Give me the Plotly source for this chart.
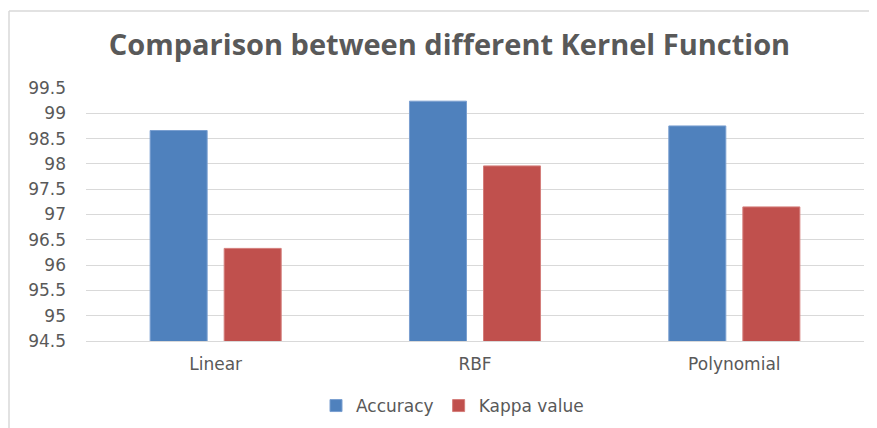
import plotly.graph_objects as go

categories = ["Linear", "RBF", "Polynomial"]
accuracy = [98.66, 99.24, 98.75]
kappa = [96.33, 97.96, 97.15]
y_ticks = [94.5, 95, 95.5, 96, 96.5, 97, 97.5, 98, 98.5, 99, 99.5]

# page body has an 8px margin, so the figure starts at (8, 8) in the window
W, H = 869, 420
L, R, T, B = 78, 13, 80, 87
font_fam = "DejaVu Sans, sans-serif"
gray = "#595959"

fig = go.Figure()
fig.add_bar(name="Accuracy", x=categories, y=accuracy,
            marker=dict(color="#4f81bd", line=dict(color="#7a9fd0", width=1)))
fig.add_bar(name="Kappa value", x=categories, y=kappa,
            marker=dict(color="#c0504d", line=dict(color="#d47d7a", width=1)))

fig.update_layout(
    width=W, height=H,
    margin=dict(l=L, r=R, t=T, b=B, autoexpand=False),
    paper_bgcolor="white", plot_bgcolor="white",
    barmode="group", bargap=0.429, bargroupgap=0.23,
    title=dict(text="<b>Comparison between different Kernel Function</b>", x=441.5 / W, xanchor="center",
               y=1 - 37 / H, yanchor="middle",
               font=dict(family="Open Sans, sans-serif", size=29, color=gray)),
    yaxis=dict(range=[94.5, 99.5], tickvals=y_ticks, ticktext=[f"{v:g}" for v in y_ticks],
               showgrid=True, gridcolor="#d9d9d9", gridwidth=1, zeroline=False,
               showline=False, ticks="", ticklen=0, ticklabelstandoff=19,
               tickfont=dict(family=font_fam, size=17, color=gray)),
    xaxis=dict(showgrid=False, showline=True, linecolor="#d9d9d9", ticks="",
               ticklabelstandoff=8,
               tickfont=dict(family=font_fam, size=17, color=gray)),
    legend=dict(orientation="h", xref="container", yref="container",
                x=444.5 / W, xanchor="center",
                y=(H - 398) / H, yanchor="middle",
                font=dict(family=font_fam, size=17, color=gray), itemwidth=30),
    showlegend=True,
)

# chart border (top and left edges visible in the reference)
pw = W - L - R
ph = H - T - B
x0 = (1 - L) / pw
y_top = (H - B - 3) / ph
y_bot = (H - B - H) / ph
fig.add_shape(type="line", xref="paper", yref="paper", x0=x0, x1=(W - L) / pw, y0=y_top, y1=y_top,
              line=dict(color="#d9d9d9", width=1.5))
fig.add_shape(type="line", xref="paper", yref="paper", x0=x0, x1=x0, y0=y_top, y1=y_bot,
              line=dict(color="#d9d9d9", width=1.5))

fig.write_html("out.html")
